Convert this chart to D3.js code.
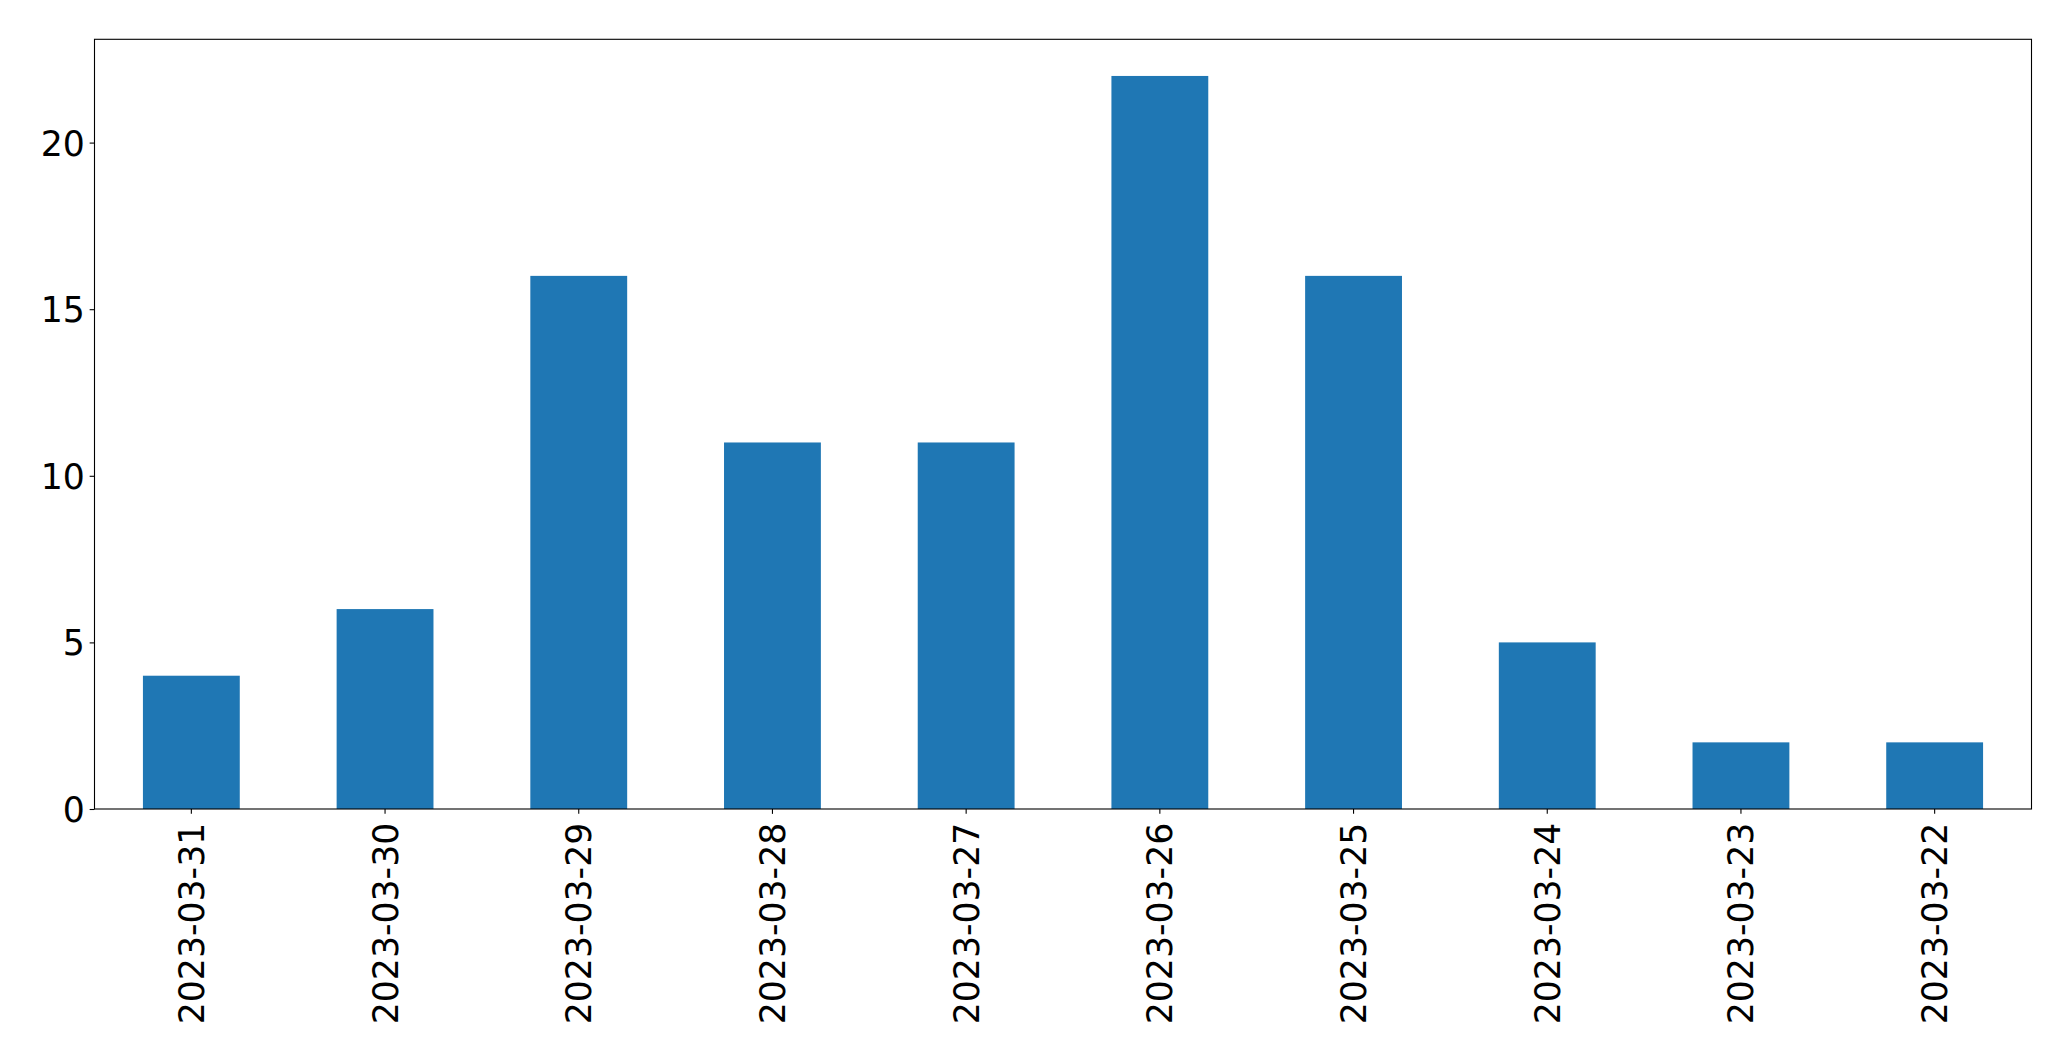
<!doctype html>
<html lang="en">
<head>
  <meta charset="utf-8">
  <title>Bar chart</title>
  <style>
    body { margin: 0; background: #fff; }
    svg { display: block; }
    text { font-family: "DejaVu Sans", sans-serif; }
  </style>
</head>
<body>
  <script src="https://cdn.jsdelivr.net/npm/d3@7/dist/d3.min.js"></script>
  <svg width="2071" height="1061"></svg>
  <script>
    // data
    var dates = ["2023-03-31","2023-03-30","2023-03-29","2023-03-28","2023-03-27",
                 "2023-03-26","2023-03-25","2023-03-24","2023-03-23","2023-03-22"];
    var counts = [4, 6, 16, 11, 11, 22, 16, 5, 2, 2];
    var yTicks = [0, 5, 10, 15, 20];

    // plot frame (window.top is read-only, so no "top" var)
    var plotL = 94.5, plotR = 2031.5, plotT = 39.3, plotB = 809;
    var tickLen = 4.86, fontSize = 34.7;

    var svg = d3.select("svg");

    var x = d3.scaleBand().domain(dates).range([plotL, plotR])
      .paddingInner(0.5).paddingOuter(0.25);
    var y = d3.scaleLinear().domain([0, d3.max(counts) * 1.05]).range([plotB, plotT]);

    svg.append("g")
      .selectAll("rect")
      .data(dates)
      .enter()
      .append("rect")
        .attr("x", (d) => x(d))
        .attr("width", x.bandwidth())
        .attr("y", (d, i) => y(counts[i]))
        .attr("height", (d, i) => plotB - y(counts[i]))
        .style("fill", "#1f77b4");

    //y axis
    var yAxis = svg.append("g")
      .attr("transform", "translate(" + plotL + ",0)")
      .call(d3.axisLeft(y).tickValues(yTicks).tickSize(tickLen).tickPadding(tickLen).tickFormat(d3.format("d")));
    yAxis.select(".domain").remove();
    yAxis.selectAll("line").attr("stroke", "#000").attr("stroke-width", 1.1);
    yAxis.selectAll("text").style("font-size", fontSize + "px").attr("fill", "#000")
      .attr("dy", "0.36em");

    //x axis, labels rotated
    var xAxis = svg.append("g")
      .attr("transform", "translate(0," + plotB + ")")
      .call(d3.axisBottom(x).tickSize(tickLen));
    xAxis.select(".domain").remove();
    xAxis.selectAll("line").attr("stroke", "#000").attr("stroke-width", 1.1);
    xAxis.selectAll("text")
      .style("font-size", fontSize + "px").attr("fill", "#000")
      .attr("text-anchor", "end")
      .attr("x", 0).attr("y", 0).attr("dy", 0)
      .attr("transform", "translate(12.5," + (tickLen * 2 + 4) + ") rotate(-90)");

    //frame
    svg.append("rect")
      .attr("x", plotL).attr("y", plotT)
      .attr("width", plotR - plotL).attr("height", plotB - plotT)
      .style("fill", "none").style("stroke", "#000").style("stroke-width", 1.1);
  </script>
</body>
</html>
